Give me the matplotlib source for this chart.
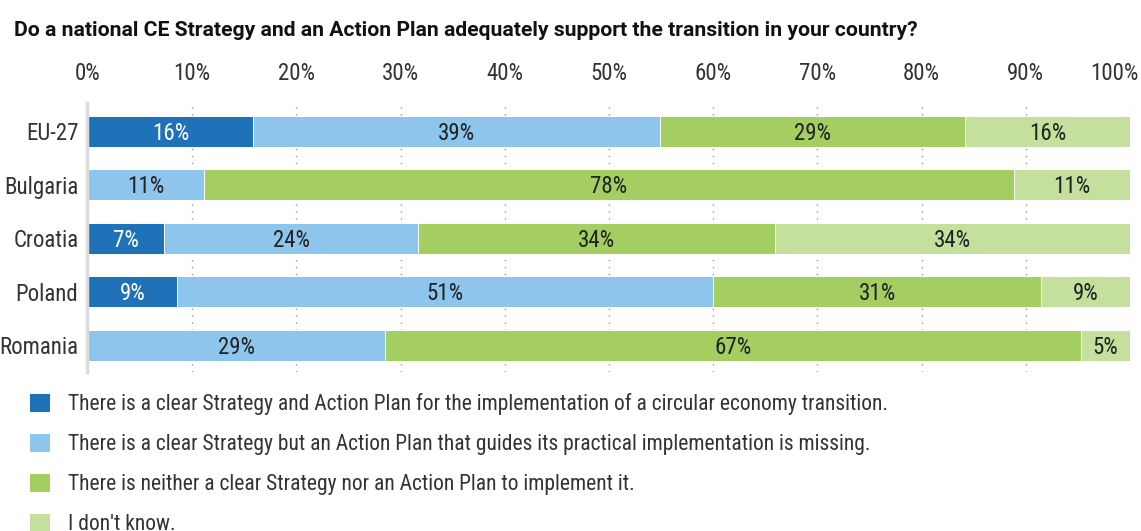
import matplotlib.pyplot as plt
import matplotlib.transforms as mtransforms
import numpy as np

plt.rcParams['font.family'] = ['Roboto Condensed', 'Archivo Narrow', 'DejaVu Sans']

title = 'Do a national CE Strategy and an Action Plan adequately support the transition in your country?'
countries = ['EU-27', 'Bulgaria', 'Croatia', 'Poland', 'Romania']
answers = [
    'There is a clear Strategy and Action Plan for the implementation of a circular economy transition.',
    'There is a clear Strategy but an Action Plan that guides its practical implementation is missing.',
    'There is neither a clear Strategy nor an Action Plan to implement it.',
    "I don't know.",
]
# bar widths (% of respondents)
strategy_and_plan = [15.8, 0.0, 7.3, 8.5, 0.0]
strategy_only = [39.1, 11.1, 24.4, 51.5, 28.5]
neither = [29.3, 77.8, 34.2, 31.5, 66.8]
dont_know = [15.8, 11.1, 34.1, 8.5, 4.7]
# printed labels (0 = no label)
lab_strategy_and_plan = [16, 0, 7, 9, 0]
lab_strategy_only = [39, 11, 24, 51, 29]
lab_neither = [29, 78, 34, 31, 67]
lab_dont_know = [16, 11, 34, 9, 5]
ticks = list(range(0, 101, 10))

colors = ['#1f72b8', '#8dc5ec', '#a4cd62', '#c4e09c']
text_colors = ['white', '#222222', '#222222', '#222222']

fig = plt.figure(figsize=(11.41, 5.31), dpi=100)
ax = fig.add_axes([88 / 1141, 1 - 372 / 531, 1042 / 1141, 269 / 531])

y = np.arange(len(countries))
left = np.zeros(len(countries))
series = [strategy_and_plan, strategy_only, neither, dont_know]
series_labels = [lab_strategy_and_plan, lab_strategy_only, lab_neither, lab_dont_know]
handles = []
for vals, labs, col, tcol, name in zip(series, series_labels, colors, text_colors, answers):
    vals = np.array(vals)
    bars = ax.barh(y, vals, left=left, height=0.58, color=col, edgecolor='white',
                   linewidth=0.7, label=name, zorder=2)
    handles.append(bars)
    for yi, (l, v, t) in enumerate(zip(left, vals, labs)):
        if t:
            ax.text(l + v / 2, yi + 0.04, f'{t}%', ha='center', va='center',
                    color=tcol, fontsize=16.5, zorder=3)
    left = left + vals

ax.set_xlim(0, 100)
ax.set_ylim(4.5, -0.53)
ax.set_yticks(y)
ax.set_yticklabels(countries)
ax.set_xticks(ticks)
ax.set_xticklabels([f'{t}%' for t in ticks])
ax.xaxis.tick_top()
ax.tick_params(axis='x', length=0, pad=13, labelsize=16.5, colors='#333333')
ax.tick_params(axis='y', length=0, pad=6, labelsize=16.5, colors='#333333')
ax.grid(axis='x', linestyle=(0, (1, 4)), color='#999999', linewidth=1)
ax.set_axisbelow(True)
for s in ['top', 'right', 'bottom']:
    ax.spines[s].set_visible(False)
ax.spines['left'].set_color('#dcdcdc')
ax.spines['left'].set_linewidth(2.5)
ax.spines['left'].set_position(('outward', 1))

# last tick label is pulled left so it stays inside the figure
last = ax.get_xticklabels()[-1]
last.set_transform(last.get_transform() + mtransforms.ScaledTranslation(-0.16, 0, fig.dpi_scale_trans))

fig.text(14 / 1141, 1 - 36 / 531, title, fontsize=15.2, fontweight='bold', color='#111111',
         va='baseline', ha='left', family=['Roboto', 'DejaVu Sans'])

fig.legend(handles, answers, loc='upper left', bbox_to_anchor=(29 / 1141, 1 - 393 / 531),
           prop={'size': 15.5}, handlelength=0.98, handleheight=0.98, handletextpad=0.84,
           labelspacing=0.84, borderpad=0, borderaxespad=0, frameon=False,
           labelcolor='#333333')

fig.savefig('out.png', dpi=100)
